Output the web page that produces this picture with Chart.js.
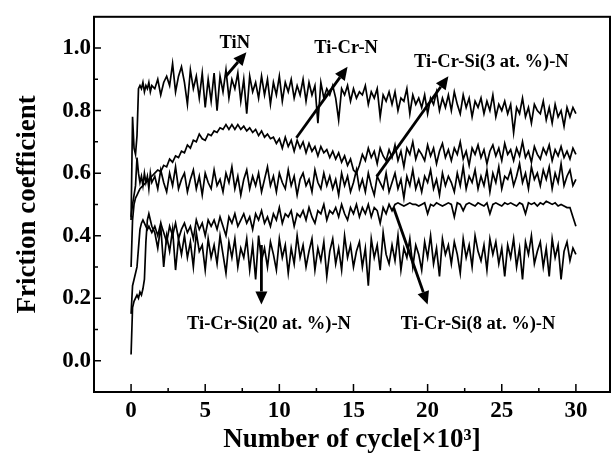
<!DOCTYPE html>
<html>
<head>
<meta charset="utf-8">
<script src="https://cdn.jsdelivr.net/npm/chart.js@4.4.1/dist/chart.umd.min.js"></script>
<style>
html,body{margin:0;padding:0;background:#fff;}
canvas{display:block;}
</style>
</head>
<body>
<canvas id="c" width="615" height="457" style="width:615px;height:457px"></canvas>
<script>
// ---- data ----
const cycles = [
0,0.1,0.2,0.3,0.4,0.5,0.6,0.7,0.8,0.9,1.0,1.1,1.2,1.3,1.4,
1.6,1.8,2.0,2.2,2.4,2.6,2.8,3.0,3.2,3.4,
3.6,3.8,4.0,4.2,4.4,4.6,4.8,5.0,5.2,5.4,
5.6,5.8,6.0,6.2,6.4,6.6,6.8,7.0,7.2,7.4,
7.6,7.8,8.0,8.2,8.4,8.6,8.8,9.0,9.2,9.4,
9.6,9.8,10.0,10.2,10.4,10.6,10.8,11.0,11.2,11.4,
11.6,11.8,12.0,12.2,12.4,12.6,12.8,13.0,13.2,13.4,
13.6,13.8,14.0,14.2,14.4,14.6,14.8,15.0,15.2,15.4,
15.6,15.8,16.0,16.2,16.4,16.6,16.8,17.0,17.2,17.4,
17.6,17.8,18.0,18.2,18.4,18.6,18.8,19.0,19.2,19.4,
19.6,19.8,20.0,20.2,20.4,20.6,20.8,21.0,21.2,21.4,
21.6,21.8,22.0,22.2,22.4,22.6,22.8,23.0,23.2,23.4,
23.6,23.8,24.0,24.2,24.4,24.6,24.8,25.0,25.2,25.4,
25.6,25.8,26.0,26.2,26.4,26.6,26.8,27.0,27.2,27.4,
27.6,27.8,28.0,28.2,28.4,28.6,28.8,29.0,29.2,29.4,
29.6,29.8,30.0];

const tiN = [
0.45,0.78,0.68,0.66,0.72,0.87,0.88,0.87,0.89,0.86,0.88,0.87,0.89,0.86,0.88,
0.87,0.90,0.85,0.89,0.91,0.88,0.95,0.86,0.91,0.94,
0.89,0.82,0.93,0.87,0.91,0.84,0.92,0.81,0.90,0.83,
0.92,0.80,0.91,0.86,0.93,0.84,0.90,0.87,0.92,0.83,
0.90,0.79,0.91,0.86,0.89,0.84,0.91,0.85,0.90,0.82,
0.89,0.85,0.91,0.83,0.89,0.86,0.90,0.84,0.88,0.85,
0.90,0.83,0.89,0.85,0.88,0.76,0.89,0.84,0.87,0.85,
0.88,0.84,0.77,0.87,0.85,0.88,0.83,0.87,0.84,0.86,
0.85,0.88,0.82,0.86,0.84,0.87,0.78,0.85,0.83,0.86,
0.82,0.86,0.80,0.84,0.83,0.87,0.79,0.85,0.82,0.84,
0.81,0.85,0.79,0.84,0.82,0.86,0.80,0.84,0.81,0.85,
0.80,0.86,0.82,0.79,0.85,0.81,0.84,0.78,0.83,0.81,
0.84,0.79,0.83,0.80,0.85,0.78,0.82,0.80,0.83,0.79,
0.82,0.73,0.81,0.79,0.84,0.78,0.81,0.76,0.82,0.80,
0.79,0.83,0.77,0.81,0.76,0.82,0.78,0.80,0.75,0.81,
0.78,0.81,0.79];

const tiCrN = [
0.30,0.45,0.50,0.52,0.53,0.54,0.55,0.555,0.56,0.565,0.57,0.575,0.58,0.585,0.59,
0.60,0.61,0.605,0.625,0.62,0.645,0.635,0.655,0.65,0.67,
0.665,0.69,0.68,0.705,0.70,0.725,0.71,0.705,0.725,0.72,
0.735,0.73,0.745,0.74,0.755,0.74,0.755,0.74,0.755,0.74,
0.75,0.735,0.745,0.73,0.74,0.72,0.735,0.715,0.725,0.71,
0.715,0.695,0.71,0.68,0.715,0.685,0.705,0.67,0.705,0.68,
0.70,0.665,0.695,0.67,0.685,0.655,0.685,0.665,0.675,0.65,
0.67,0.645,0.665,0.635,0.655,0.625,0.645,0.61,0.60,0.625,
0.66,0.64,0.68,0.65,0.67,0.63,0.68,0.655,0.64,0.675,
0.65,0.69,0.64,0.67,0.62,0.68,0.66,0.70,0.645,0.675,
0.66,0.64,0.69,0.655,0.68,0.63,0.67,0.695,0.65,0.675,
0.64,0.68,0.66,0.70,0.645,0.67,0.625,0.68,0.66,0.69,
0.65,0.675,0.63,0.67,0.69,0.655,0.68,0.64,0.695,0.66,
0.675,0.64,0.68,0.655,0.70,0.65,0.67,0.635,0.685,0.66,
0.645,0.68,0.66,0.69,0.64,0.675,0.655,0.685,0.65,0.67,
0.645,0.68,0.66];

const tiCrSi3 = [
0.46,0.50,0.53,0.56,0.65,0.60,0.57,0.59,0.56,0.60,0.57,0.59,0.55,0.60,0.57,
0.59,0.55,0.61,0.57,0.54,0.60,0.56,0.62,0.55,0.58,
0.60,0.54,0.58,0.61,0.55,0.59,0.53,0.60,0.57,0.55,
0.61,0.56,0.58,0.54,0.60,0.57,0.62,0.55,0.59,0.53,
0.58,0.61,0.55,0.59,0.56,0.60,0.54,0.58,0.62,0.56,
0.59,0.54,0.60,0.57,0.55,0.61,0.56,0.59,0.53,0.58,
0.60,0.56,0.58,0.54,0.61,0.57,0.55,0.60,0.56,0.59,
0.55,0.58,0.53,0.60,0.56,0.59,0.54,0.57,0.61,0.55,
0.58,0.54,0.60,0.56,0.53,0.59,0.57,0.55,0.60,0.54,
0.57,0.60,0.55,0.58,0.52,0.59,0.56,0.61,0.55,0.58,
0.54,0.59,0.57,0.61,0.55,0.58,0.53,0.60,0.56,0.59,
0.57,0.54,0.60,0.56,0.62,0.55,0.59,0.57,0.61,0.55,
0.59,0.56,0.61,0.54,0.60,0.57,0.62,0.55,0.59,0.58,
0.61,0.56,0.59,0.63,0.57,0.60,0.55,0.62,0.58,0.60,
0.56,0.61,0.58,0.62,0.55,0.60,0.57,0.63,0.56,0.59,
0.61,0.56,0.58];

const tiCrSi8 = [
0.15,0.24,0.26,0.28,0.30,0.36,0.42,0.44,0.45,0.44,0.43,0.42,0.43,0.42,0.41,
0.43,0.40,0.44,0.41,0.38,0.43,0.40,0.44,0.39,0.42,
0.44,0.41,0.43,0.39,0.45,0.42,0.44,0.40,0.45,0.43,
0.45,0.42,0.46,0.43,0.40,0.46,0.44,0.47,0.43,0.45,
0.47,0.44,0.46,0.42,0.47,0.45,0.48,0.44,0.46,0.43,
0.47,0.45,0.49,0.44,0.47,0.46,0.48,0.43,0.47,0.46,
0.48,0.45,0.49,0.46,0.44,0.48,0.47,0.50,0.45,0.48,
0.47,0.49,0.46,0.50,0.47,0.45,0.49,0.47,0.50,0.46,
0.49,0.47,0.50,0.46,0.49,0.48,0.44,0.49,0.47,0.50,
0.48,0.50,0.505,0.50,0.495,0.50,0.505,0.50,0.50,0.495,
0.50,0.505,0.47,0.50,0.495,0.505,0.50,0.495,0.50,0.505,
0.50,0.46,0.505,0.50,0.48,0.50,0.505,0.50,0.495,0.505,
0.50,0.495,0.505,0.47,0.50,0.505,0.50,0.495,0.505,0.50,
0.505,0.50,0.495,0.505,0.50,0.47,0.505,0.50,0.505,0.495,
0.505,0.50,0.51,0.505,0.50,0.505,0.495,0.50,0.495,0.49,
0.49,0.46,0.43];

const tiCrSi20 = [
0.02,0.17,0.19,0.20,0.21,0.20,0.22,0.21,0.23,0.26,0.38,0.45,0.47,0.45,0.43,
0.41,0.36,0.43,0.30,0.40,0.35,0.42,0.29,0.39,0.34,
0.40,0.33,0.38,0.30,0.41,0.35,0.37,0.29,0.39,0.33,
0.37,0.31,0.40,0.34,0.28,0.38,0.33,0.39,0.30,0.36,
0.33,0.39,0.29,0.37,0.26,0.40,0.32,0.36,0.30,0.38,
0.34,0.29,0.39,0.33,0.37,0.28,0.36,0.31,0.40,0.33,
0.37,0.30,0.35,0.39,0.29,0.36,0.32,0.38,0.27,0.35,
0.39,0.31,0.36,0.29,0.40,0.33,0.37,0.30,0.35,0.38,
0.30,0.36,0.24,0.39,0.33,0.37,0.29,0.41,0.34,0.31,
0.37,0.32,0.40,0.29,0.36,0.33,0.39,0.30,0.37,0.34,
0.29,0.38,0.33,0.40,0.31,0.36,0.27,0.39,0.34,0.37,
0.31,0.38,0.34,0.28,0.39,0.33,0.37,0.30,0.40,0.35,
0.32,0.37,0.29,0.39,0.34,0.38,0.31,0.36,0.27,0.37,
0.33,0.39,0.30,0.36,0.26,0.38,0.34,0.40,0.31,0.35,
0.38,0.30,0.36,0.27,0.39,0.33,0.37,0.26,0.35,0.38,
0.32,0.36,0.34];

const seriesNames = ['TiN','Ti-Cr-N','Ti-Cr-Si(3 at. %)-N','Ti-Cr-Si(8 at. %)-N','Ti-Cr-Si(20 at. %)-N'];
const seriesValues = [tiN, tiCrN, tiCrSi3, tiCrSi8, tiCrSi20];

const xTickValues = [0,5,10,15,20,25,30];
const xMinorValues = [2.5,7.5,12.5,17.5,22.5,27.5];
const yTickValues = [0,0.2,0.4,0.6,0.8,1.0];
const yMinorValues = [0.1,0.3,0.5,0.7,0.9];

// annotation labels and arrows (data coordinates)
const noteText = ['TiN','Ti-Cr-N','Ti-Cr-Si(3 at. %)-N','Ti-Cr-Si(20 at. %)-N','Ti-Cr-Si(8 at. %)-N'];
const noteX = [7.0, 14.5, 24.3, 9.3, 23.4];
const noteY = [1.015, 1.0, 0.955, 0.118, 0.118];
const arrowFromX = [6.38, 11.15, 16.56, 8.79, 17.7];
const arrowFromY = [0.909, 0.713, 0.589, 0.37, 0.49];
const arrowToX = [7.78, 14.6, 21.4, 8.79, 20.0];
const arrowToY = [0.987, 0.94, 0.91, 0.18, 0.18];

const FAMILY = '"Liberation Serif","Times New Roman",serif';

const framePlugin = {
  id: 'frame',
  afterDatasetsDraw(chart) {
    const ctx = chart.ctx;
    const a = chart.chartArea;
    const xs = chart.scales.x, ys = chart.scales.y;
    ctx.save();
    ctx.strokeStyle = '#000';
    ctx.fillStyle = '#000';
    // frame
    ctx.lineWidth = 2;
    ctx.strokeRect(a.left, a.top, a.right - a.left, a.bottom - a.top);
    // inward ticks
    ctx.lineWidth = 1.5;
    ctx.beginPath();
    xTickValues.forEach(v => { const p = xs.getPixelForValue(v); ctx.moveTo(p, a.bottom); ctx.lineTo(p, a.bottom - 8); });
    xMinorValues.forEach(v => { const p = xs.getPixelForValue(v); ctx.moveTo(p, a.bottom); ctx.lineTo(p, a.bottom - 4); });
    yTickValues.forEach(v => { const p = ys.getPixelForValue(v); ctx.moveTo(a.left, p); ctx.lineTo(a.left + 7, p); });
    yMinorValues.forEach(v => { const p = ys.getPixelForValue(v); ctx.moveTo(a.left, p); ctx.lineTo(a.left + 4, p); });
    ctx.stroke();
    // arrows
    for (let i = 0; i < noteText.length; i++) {
      const x0 = xs.getPixelForValue(arrowFromX[i]), y0 = ys.getPixelForValue(arrowFromY[i]);
      const x1 = xs.getPixelForValue(arrowToX[i]), y1 = ys.getPixelForValue(arrowToY[i]);
      const ang = Math.atan2(y1 - y0, x1 - x0);
      const hl = 13, hw = 6;
      const bx = x1 - hl * Math.cos(ang), by = y1 - hl * Math.sin(ang);
      ctx.lineWidth = 2.8;
      ctx.beginPath(); ctx.moveTo(x0, y0); ctx.lineTo(bx, by); ctx.stroke();
      ctx.beginPath();
      ctx.moveTo(x1, y1);
      ctx.lineTo(bx + hw * Math.sin(ang), by - hw * Math.cos(ang));
      ctx.lineTo(bx - hw * Math.sin(ang), by + hw * Math.cos(ang));
      ctx.closePath(); ctx.fill();
    }
    // labels
    ctx.font = 'bold 18.5px ' + FAMILY;
    ctx.textAlign = 'center';
    ctx.textBaseline = 'middle';
    for (let i = 0; i < noteText.length; i++) {
      ctx.fillText(noteText[i], xs.getPixelForValue(noteX[i]), ys.getPixelForValue(noteY[i]));
    }
    ctx.restore();
  }
};

new Chart(document.getElementById('c'), {
  type: 'line',
  data: {
    datasets: seriesValues.map((vals, k) => ({
      label: seriesNames[k],
      data: cycles.map((c, i) => ({ x: c, y: vals[i] })),
      borderColor: '#000',
      borderWidth: 1.7,
      pointRadius: 0,
      fill: false,
      tension: 0
    }))
  },
  options: {
    responsive: false,
    animation: false,
    layout: { padding: { top: 5, right: 5, left: 0, bottom: 0 } },
    plugins: { legend: { display: false }, tooltip: { enabled: false } },
    scales: {
      x: {
        type: 'linear', min: -2.5, max: 32.3,
        afterBuildTicks: s => { s.ticks = xTickValues.map(v => ({ value: v })); },
        afterFit: s => { s.height = 65; },
        grid: { display: false, drawTicks: false },
        border: { display: false },
        ticks: { padding: 5, autoSkip: false, maxRotation: 0, color: '#000',
                 font: { family: FAMILY, size: 23, weight: 'bold' },
                 callback: v => String(v) },
        title: { display: true, text: 'Number of cycle[×10³]', color: '#000',
                 font: { family: FAMILY, size: 27, weight: 'bold' },
                 padding: { top: 0, bottom: 1 } }
      },
      y: {
        type: 'linear', min: -0.1, max: 1.1,
        afterBuildTicks: s => { s.ticks = yTickValues.map(v => ({ value: v })); },
        afterFit: s => { s.width = 94; },
        grid: { display: false, drawTicks: false },
        border: { display: false },
        ticks: { padding: 3, autoSkip: false, color: '#000',
                 font: { family: FAMILY, size: 23, weight: 'bold' },
                 callback: v => Number(v).toFixed(1) },
        title: { display: true, text: 'Friction coefficient', color: '#000',
                 font: { family: FAMILY, size: 27, weight: 'bold' },
                 padding: { top: 12, bottom: 0 } }
      }
    }
  },
  plugins: [framePlugin]
});
</script>
</body>
</html>
